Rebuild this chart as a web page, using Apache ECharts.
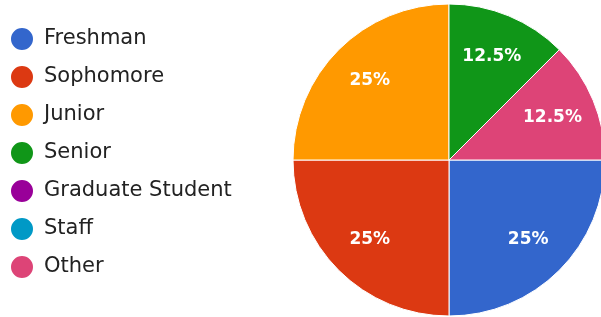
<!DOCTYPE html>
<html>
<head>
<meta charset="utf-8">
<script src="https://cdn.jsdelivr.net/npm/echarts@6/dist/echarts.min.js"></script>
<style>
  html, body { margin: 0; padding: 0; background: #fff; }
  #chart { width: 601px; height: 317px; }
</style>
</head>
<body>
<div id="chart"></div>
<script>
const categories = ['Freshman', 'Sophomore', 'Junior', 'Senior', 'Graduate Student', 'Staff', 'Other']
const counts = [2, 2, 2, 1, 0, 0, 1]
const colors = ['#3366cc', '#dc3912', '#ff9900', '#109618', '#990099', '#0099c6', '#dd4477']

const chart = echarts.init(document.getElementById('chart'))

const pieData = categories.map((name, i) => ({ name, value: counts[i] }))

const option = {
  animation: false,
  color: colors,
  legend: {
    orient: 'vertical',
    left: 4,
    top: 21,
    icon: 'circle',
    itemWidth: 24,
    itemHeight: 24,
    itemGap: 12,
    textStyle: {
      fontFamily: 'DejaVu Sans, sans-serif',
      fontSize: 21,
      color: '#222',
      padding: [0, 0, 0, 5],
    },
    data: categories,
  },
  series: [
    {
      // coloured slices
      type: 'pie',
      center: [449, 160],
      radius: [0, 156],
      startAngle: 0,
      clockwise: true,
      silent: true,
      label: { show: false },
      labelLine: { show: false },
      itemStyle: { borderColor: '#fff', borderWidth: 1 },
      data: pieData,
    },
    {
      // invisible ring, only to carry the percentage labels further out
      type: 'pie',
      center: [449, 160],
      radius: [62, 156],
      startAngle: 0,
      clockwise: true,
      silent: true,
      legendHoverLink: false,
      itemStyle: { color: 'rgba(0,0,0,0)' },
      label: {
        show: true,
        position: 'inside',
        color: '#fff',
        fontFamily: 'DejaVu Sans, sans-serif',
        fontWeight: 'bold',
        fontSize: 17,
        formatter: (p) => (p.value ? p.percent + '%' : ''),
      },
      labelLine: { show: false },
      data: pieData,
    },
  ],
}

chart.setOption(option)
</script>
</body>
</html>
